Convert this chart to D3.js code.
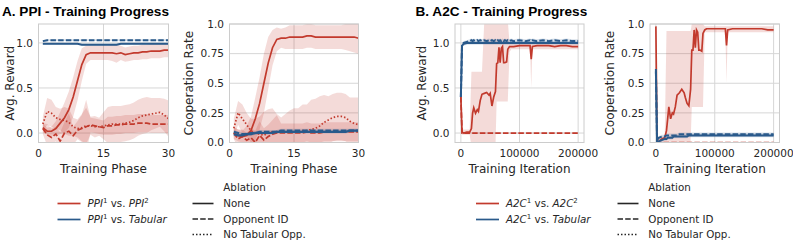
<!DOCTYPE html>
<html>
<head>
<meta charset="utf-8">
<script src="https://cdn.jsdelivr.net/npm/d3@7/dist/d3.min.js"></script>
<style>
  body { margin: 0; background: #fff; }
  svg text { fill: #262626; font-family: "DejaVu Sans", sans-serif; }
  .title { font-family: "Liberation Sans", Arial, sans-serif; font-weight: bold; font-size: 13.6px; fill: #000; }
  .tick { font-size: 10.5px; }
  .axlabel { font-size: 12px; }
  .legend { font-size: 10.3px; }
</style>
</head>
<body>
<div id="chart"></div>
<script>
// ---- data ----
var ppiPhases = [1,2,3,4,5,6,7,8,9,10,11,12,13,14,15,16,17,18,19,20,21,22,23,24,25,26,27,28,29,30];

// PPI, average reward
var ppiRewSelfNone   = [0.06,0.02,0.02,0.05,0.11,0.17,0.26,0.40,0.58,0.76,0.87,0.89,0.89,0.89,0.89,0.89,0.89,0.88,0.89,0.87,0.88,0.89,0.89,0.90,0.90,0.91,0.91,0.91,0.92,0.92];
var ppiRewSelfNoneSd = [0.05,0.04,0.05,0.08,0.12,0.17,0.20,0.22,0.22,0.18,0.10,0.08,0.08,0.08,0.08,0.08,0.09,0.10,0.08,0.08,0.08,0.08,0.08,0.08,0.08,0.08,0.08,0.08,0.08,0.08];
var ppiRewSelfOpp    = [0.05,-0.02,-0.05,-0.01,-0.09,0.00,0.02,-0.03,0.03,0.05,0.07,0.09,0.08,0.07,0.06,0.08,0.08,0.09,0.09,0.10,0.10,0.10,0.11,0.11,0.11,0.10,0.10,0.10,0.10,0.10];
var ppiRewSelfOppSd  = [0.06,0.12,0.10,0.08,0.10,0.12,0.20,0.10,0.10,0.15,0.30,0.08,0.08,0.08,0.08,0.10,0.10,0.10,0.10,0.10,0.10,0.10,0.10,0.10,0.10,0.10,0.10,0.10,0.10,0.10];
var ppiRewSelfNoTab   = [0.10,0.24,0.22,0.17,0.15,0.14,0.12,0.07,0.05,0.06,0.08,0.08,0.07,0.07,0.08,0.09,0.10,0.10,0.10,0.11,0.12,0.14,0.17,0.19,0.20,0.21,0.22,0.23,0.20,0.16];
var ppiRewSelfNoTabSd = [0.08,0.15,0.15,0.12,0.12,0.15,0.15,0.10,0.10,0.15,0.20,0.10,0.12,0.10,0.15,0.20,0.20,0.20,0.20,0.20,0.20,0.20,0.20,0.20,0.20,0.18,0.17,0.16,0.18,0.20];
var ppiRewTabNone = [0.99,0.99,0.99,0.99,0.99,0.99,0.99,0.99,0.99,0.98,0.98,0.98,0.98,0.98,0.98,0.98,0.98,0.98,0.99,0.99,0.99,0.99,0.99,0.99,0.99,0.99,0.99,0.99,0.99,0.99];
var ppiRewTabOpp  = [1.02,1.03,1.03,1.03,1.03,1.03,1.03,1.03,1.03,1.03,1.03,1.03,1.03,1.03,1.03,1.03,1.03,1.03,1.03,1.03,1.03,1.03,1.03,1.03,1.03,1.03,1.03,1.03,1.03,1.03];

// PPI, cooperation rate
var ppiCoopSelfNone   = [0.08,0.06,0.05,0.06,0.10,0.20,0.33,0.50,0.67,0.80,0.87,0.88,0.88,0.89,0.89,0.89,0.89,0.90,0.90,0.89,0.89,0.89,0.89,0.89,0.89,0.89,0.89,0.89,0.89,0.88];
var ppiCoopSelfNoneSd = [0.05,0.05,0.05,0.08,0.12,0.18,0.22,0.25,0.22,0.15,0.10,0.08,0.09,0.10,0.10,0.10,0.10,0.10,0.10,0.10,0.10,0.10,0.10,0.10,0.10,0.10,0.11,0.12,0.13,0.13];
var ppiCoopSelfOpp    = [0.08,0.03,0.05,0.02,0.04,0.00,0.06,0.02,0.05,0.07,0.08,0.08,0.08,0.08,0.08,0.08,0.08,0.09,0.08,0.08,0.08,0.09,0.09,0.09,0.09,0.09,0.09,0.09,0.09,0.09];
var ppiCoopSelfOppSd  = [0.05,0.08,0.06,0.06,0.08,0.10,0.12,0.10,0.10,0.12,0.15,0.08,0.08,0.08,0.08,0.08,0.08,0.08,0.08,0.08,0.08,0.08,0.08,0.08,0.08,0.08,0.08,0.08,0.08,0.08];
var ppiCoopSelfNoTab   = [0.12,0.25,0.20,0.15,0.10,0.08,0.07,0.06,0.08,0.09,0.09,0.09,0.09,0.09,0.09,0.09,0.10,0.10,0.11,0.12,0.14,0.17,0.19,0.21,0.22,0.22,0.21,0.18,0.16,0.15];
var ppiCoopSelfNoTabSd = [0.08,0.10,0.12,0.10,0.10,0.12,0.15,0.20,0.20,0.20,0.15,0.12,0.15,0.18,0.20,0.20,0.22,0.22,0.25,0.25,0.25,0.23,0.20,0.20,0.20,0.20,0.20,0.20,0.22,0.23];
var ppiCoopTabNone = [0.07,0.06,0.06,0.07,0.07,0.08,0.08,0.08,0.08,0.08,0.09,0.09,0.09,0.09,0.09,0.09,0.09,0.09,0.09,0.09,0.09,0.09,0.09,0.09,0.09,0.09,0.09,0.10,0.10,0.10];
var ppiCoopTabOpp  = [0.09,0.08,0.07,0.07,0.08,0.08,0.09,0.09,0.09,0.09,0.09,0.10,0.10,0.10,0.10,0.10,0.10,0.10,0.10,0.10,0.10,0.10,0.10,0.10,0.10,0.10,0.10,0.10,0.10,0.10];

// A2C, training iterations
var a2cIters = [0,2000,5000,10000,15000,18000,20000,22000,25000,28000,30000,33000,36000,40000,44000,48000,50000,53000,56000,59000,61000,63000,65000,67000,69000,71000,73000,75000,78000,80000,83000,86000,90000,100000,110000,118000,120000,122000,130000,140000,150000,160000,170000,180000,190000,200000];

// A2C, average reward
var a2cRewSelfNone   = [0.40,0.01,0.00,0.01,0.01,0.05,0.22,0.28,0.22,0.26,0.24,0.36,0.43,0.44,0.45,0.42,0.44,0.30,0.40,0.46,0.77,0.78,0.95,0.78,0.94,0.96,0.78,0.78,0.79,0.93,0.96,0.96,0.96,0.97,0.97,0.97,0.82,0.96,0.97,0.97,0.97,0.96,0.97,0.97,0.96,0.96];
var a2cRewSelfNoneLo = [0.35,-0.02,-0.02,-0.02,-0.02,-0.15,-0.15,-0.15,-0.15,-0.15,-0.15,-0.15,-0.15,-0.15,-0.15,-0.15,-0.15,-0.15,-0.15,-0.15,0.35,0.35,0.35,0.35,0.35,0.35,0.35,0.35,0.35,0.35,0.90,0.93,0.93,0.93,0.93,0.93,0.50,0.93,0.93,0.93,0.93,0.93,0.93,0.93,0.93,0.93];
var a2cRewSelfNoneHi = [0.45,0.04,0.04,0.04,0.04,0.68,0.68,0.68,0.68,0.68,0.68,0.68,0.68,1.25,1.25,1.25,1.25,1.25,1.25,1.25,1.25,1.25,1.25,1.25,1.25,1.25,1.25,1.25,1.25,1.25,1.00,0.99,0.99,0.99,0.99,0.99,0.99,0.99,0.99,0.99,0.99,0.99,0.99,0.99,0.99,0.99];
var a2cRewSelfOpp = [0.40,0.00,0.00,0.00,0.00,0.00,0.00,0.00,0.00,0.00,0.00,0.00,0.00,0.00,0.00,0.00,0.00,0.00,0.00,0.00,0.00,0.00,0.00,0.00,0.00,0.00,0.00,0.00,0.00,0.00,0.00,0.00,0.00,0.00,0.00,0.00,0.00,0.00,0.00,0.00,0.00,0.00,0.00,0.00,0.00,0.00];
var a2cRewTabNone = [0.40,0.97,0.99,1.00,1.00,1.00,1.00,1.00,1.00,1.00,1.00,1.00,1.00,1.00,1.00,1.00,1.00,1.00,1.00,1.00,1.00,1.00,1.00,1.00,1.00,1.00,1.00,1.00,1.00,1.00,1.00,1.00,1.00,1.00,1.00,1.00,1.00,1.00,1.00,1.00,1.00,1.00,1.00,1.00,1.00,1.00];
var a2cRewTabOpp  = [0.40,0.98,1.00,1.01,1.02,1.03,1.02,1.03,1.02,1.03,1.02,1.03,1.02,1.03,1.02,1.03,1.02,1.03,1.02,1.03,1.02,1.03,1.02,1.03,1.02,1.03,1.02,1.03,1.02,1.03,1.02,1.03,1.02,1.03,1.02,1.03,1.02,1.03,1.02,1.03,1.02,1.03,1.02,1.03,1.02,1.02];

// A2C, cooperation rate
var a2cCoopSelfNone   = [0.98,0.00,0.01,0.03,0.04,0.10,0.20,0.30,0.20,0.25,0.24,0.30,0.40,0.42,0.45,0.42,0.38,0.33,0.31,0.45,0.78,0.78,0.95,0.80,0.95,0.93,0.78,0.78,0.77,0.92,0.95,0.96,0.96,0.96,0.96,0.96,0.82,0.95,0.96,0.96,0.96,0.96,0.96,0.96,0.95,0.95];
var a2cCoopSelfNoneLo = [0.95,0.00,0.00,0.00,0.00,0.00,0.00,0.00,0.00,0.00,0.00,0.00,0.00,0.00,0.00,0.00,0.00,0.00,0.00,0.00,0.30,0.30,0.30,0.30,0.30,0.30,0.30,0.30,0.30,0.30,0.93,0.93,0.93,0.93,0.93,0.93,0.50,0.93,0.93,0.93,0.93,0.93,0.93,0.93,0.93,0.93];
var a2cCoopSelfNoneHi = [1.00,0.05,0.05,0.05,0.05,0.94,0.94,0.94,0.94,0.94,0.94,0.94,0.94,0.94,0.94,0.94,0.94,0.94,0.94,0.94,1.00,1.00,1.00,1.00,1.00,1.00,1.00,1.00,1.00,1.00,0.98,0.98,0.98,0.98,0.98,0.98,0.98,0.98,0.98,0.98,0.98,0.98,0.98,0.98,0.98,0.98];
var a2cCoopSelfOpp = [0.00,0.00,0.00,0.00,0.00,0.00,0.00,0.00,0.00,0.00,0.00,0.00,0.00,0.00,0.00,0.00,0.00,0.00,0.00,0.00,0.00,0.00,0.00,0.00,0.00,0.00,0.00,0.00,0.00,0.00,0.00,0.00,0.00,0.00,0.00,0.00,0.00,0.00,0.00,0.00,0.00,0.00,0.00,0.00,0.00,0.00];
var a2cCoopTabNone = [0.62,0.00,0.01,0.02,0.03,0.03,0.04,0.04,0.04,0.04,0.05,0.05,0.05,0.05,0.05,0.05,0.05,0.05,0.06,0.06,0.06,0.06,0.06,0.06,0.06,0.06,0.06,0.06,0.06,0.06,0.06,0.06,0.06,0.06,0.06,0.06,0.06,0.06,0.06,0.06,0.06,0.06,0.06,0.06,0.06,0.06];
var a2cCoopTabOpp  = [0.60,0.02,0.04,0.05,0.05,0.06,0.06,0.06,0.06,0.06,0.06,0.06,0.06,0.07,0.07,0.07,0.07,0.07,0.07,0.07,0.07,0.07,0.07,0.07,0.07,0.07,0.07,0.07,0.07,0.07,0.07,0.07,0.07,0.07,0.07,0.07,0.07,0.07,0.07,0.07,0.07,0.07,0.07,0.07,0.07,0.07];

// tick labels
var ppiXTicks = [0, 15, 30];
var a2cXTicks = [0, 100000, 200000];
var rewYTicks = [0, 0.5, 1];
var rewYLabels = ['0.0', '0.5', '1.0'];
var coopYTicks = [0, 0.25, 0.5, 0.75, 1];
var coopYLabels = ['0.0', '0.25', '0.5', '0.75', '1.0'];

// ---- drawing ----
var red = '#c23a2d', blue = '#2a5a8b';
var dashes = { none: null, opp: '5.5,2.2', notab: '1.5,2' };
var W = 793, H = 241;

var svg = d3.select('#chart').append('svg').attr('width', W).attr('height', H);

function symBand(m, sd) { return m.map(function(v, i){ return [v - sd[i], v + sd[i]]; }); }
function flatBand(m, w) { return m.map(function(v){ return [v - w, v + w]; }); }
function loHi(lo, hi) { return lo.map(function(v, i){ return [v, hi[i]]; }); }

function panel(o) {
  var x = d3.scaleLinear().domain(o.xDomain).range([o.left, o.right]);
  var y = d3.scaleLinear().domain(o.yDomain).range([o.bottom, o.top]);
  var g = svg.append('g');

  // grid
  g.selectAll('.gy').data(o.yTicks).enter().append('line')
    .attr('x1', o.left).attr('x2', o.right)
    .attr('y1', function(d){ return y(d); }).attr('y2', function(d){ return y(d); })
    .attr('stroke', '#d6d6d6').attr('stroke-width', 1);
  g.selectAll('.gx').data(o.xTicks).enter().append('line')
    .attr('y1', o.top).attr('y2', o.bottom)
    .attr('x1', function(d){ return x(d); }).attr('x2', function(d){ return x(d); })
    .attr('stroke', '#d6d6d6').attr('stroke-width', 1);

  var cid = 'clip' + o.id;
  svg.append('clipPath').attr('id', cid).append('rect')
    .attr('x', o.left).attr('y', o.top).attr('width', o.right - o.left).attr('height', o.bottom - o.top);
  var plot = g.append('g').attr('clip-path', 'url(#' + cid + ')');

  var area = d3.area()
    .x(function(d, i){ return x(o.xs[i]); })
    .y0(function(d){ return y(d[0]); })
    .y1(function(d){ return y(d[1]); });
  o.series.forEach(function(s){
    plot.append('path').attr('d', area(s.band))
      .attr('fill', s.color).attr('fill-opacity', 0.18).attr('stroke', 'none');
  });
  var line = d3.line()
    .x(function(d, i){ return x(o.xs[i]); })
    .y(function(d){ return y(d); });
  o.series.forEach(function(s){
    plot.append('path').attr('d', line(s.values))
      .attr('fill', 'none').attr('stroke', s.color).attr('stroke-width', s.width || 1.7)
      .attr('stroke-dasharray', dashes[s.dash]);
  });

  // frame
  g.append('rect').attr('x', o.left).attr('y', o.top)
    .attr('width', o.right - o.left).attr('height', o.bottom - o.top)
    .attr('fill', 'none').attr('stroke', '#cccccc').attr('stroke-width', 1);

  // tick labels
  g.selectAll('.xt').data(o.xTicks).enter().append('text').attr('class', 'tick')
    .attr('x', function(d){ return x(d); }).attr('y', 157.3)
    .attr('text-anchor', 'middle').text(function(d){ return d; });
  g.selectAll('.yt').data(o.yTicks).enter().append('text').attr('class', 'tick')
    .attr('x', o.left - 5.5).attr('y', function(d){ return y(d); }).attr('dy', '0.36em')
    .attr('text-anchor', 'end').text(function(d, i){ return o.yLabels[i]; });

  g.append('text').attr('class', 'axlabel')
    .attr('x', (o.left + o.right) / 2).attr('y', 172.5)
    .attr('text-anchor', 'middle').text(o.xlabel);
  g.append('text').attr('class', 'axlabel')
    .attr('transform', 'translate(' + o.ylabelX + ',' + ((o.top + o.bottom) / 2) + ') rotate(-90)')
    .attr('dy', '0.35em').attr('text-anchor', 'middle').text(o.ylabel);
}

var plotTop = 24, plotBottom = 142.5;
var rewDomain = [-0.105, 1.21];
var a2cDomain = [-10000, 210000];

panel({ id: 1, left: 38.5, right: 168.5, top: plotTop, bottom: plotBottom,
  xDomain: [0, 30], yDomain: rewDomain, xs: ppiPhases,
  xTicks: ppiXTicks, yTicks: rewYTicks, yLabels: rewYLabels,
  xlabel: 'Training Phase', ylabel: 'Avg. Reward', ylabelX: 10,
  series: [
    { values: ppiRewSelfNoTab, band: symBand(ppiRewSelfNoTab, ppiRewSelfNoTabSd), color: red, dash: 'notab' },
    { values: ppiRewSelfOpp, band: symBand(ppiRewSelfOpp, ppiRewSelfOppSd), color: red, dash: 'opp' },
    { values: ppiRewSelfNone, band: symBand(ppiRewSelfNone, ppiRewSelfNoneSd), color: red, dash: 'none' },
    { values: ppiRewTabNone, band: flatBand(ppiRewTabNone, 0.01), color: blue, dash: 'none', width: 2 },
    { values: ppiRewTabOpp, band: flatBand(ppiRewTabOpp, 0.01), color: blue, dash: 'opp', width: 2 }
  ] });

panel({ id: 2, left: 229.5, right: 358.5, top: plotTop, bottom: plotBottom,
  xDomain: [0, 30], yDomain: [0, 1], xs: ppiPhases,
  xTicks: ppiXTicks, yTicks: coopYTicks, yLabels: coopYLabels,
  xlabel: 'Training Phase', ylabel: 'Cooperation Rate', ylabelX: 189,
  series: [
    { values: ppiCoopSelfNoTab, band: symBand(ppiCoopSelfNoTab, ppiCoopSelfNoTabSd), color: red, dash: 'notab' },
    { values: ppiCoopSelfOpp, band: symBand(ppiCoopSelfOpp, ppiCoopSelfOppSd), color: red, dash: 'opp' },
    { values: ppiCoopSelfNone, band: symBand(ppiCoopSelfNone, ppiCoopSelfNoneSd), color: red, dash: 'none' },
    { values: ppiCoopTabNone, band: flatBand(ppiCoopTabNone, 0.015), color: blue, dash: 'none', width: 2.2 },
    { values: ppiCoopTabOpp, band: flatBand(ppiCoopTabOpp, 0.015), color: blue, dash: 'opp', width: 2.2 }
  ] });

panel({ id: 3, left: 455, right: 584, top: plotTop, bottom: plotBottom,
  xDomain: a2cDomain, yDomain: rewDomain, xs: a2cIters,
  xTicks: a2cXTicks, yTicks: rewYTicks, yLabels: rewYLabels,
  xlabel: 'Training Iteration', ylabel: 'Avg. Reward', ylabelX: 421.5,
  series: [
    { values: a2cRewSelfOpp, band: flatBand(a2cRewSelfOpp, 0.005), color: red, dash: 'opp' },
    { values: a2cRewSelfNone, band: loHi(a2cRewSelfNoneLo, a2cRewSelfNoneHi), color: red, dash: 'none' },
    { values: a2cRewTabNone, band: flatBand(a2cRewTabNone, 0.02), color: blue, dash: 'none', width: 2 },
    { values: a2cRewTabOpp, band: flatBand(a2cRewTabOpp, 0.02), color: blue, dash: 'opp', width: 2 }
  ] });

panel({ id: 4, left: 650, right: 779.5, top: plotTop, bottom: plotBottom,
  xDomain: a2cDomain, yDomain: [0, 1], xs: a2cIters,
  xTicks: a2cXTicks, yTicks: coopYTicks, yLabels: coopYLabels,
  xlabel: 'Training Iteration', ylabel: 'Cooperation Rate', ylabelX: 610,
  series: [
    { values: a2cCoopSelfOpp, band: flatBand(a2cCoopSelfOpp, 0.005), color: red, dash: 'opp' },
    { values: a2cCoopSelfNone, band: loHi(a2cCoopSelfNoneLo, a2cCoopSelfNoneHi), color: red, dash: 'none' },
    { values: a2cCoopTabNone, band: flatBand(a2cCoopTabNone, 0.015), color: blue, dash: 'none', width: 2 },
    { values: a2cCoopTabOpp, band: flatBand(a2cCoopTabOpp, 0.015), color: blue, dash: 'opp', width: 2 }
  ] });

// titles
svg.append('text').attr('class', 'title').attr('x', 2).attr('y', 15.5).text('A. PPI - Training Progress');
svg.append('text').attr('class', 'title').attr('x', 415.5).attr('y', 15.5).text('B. A2C - Training Progress');

// legends
function agentLegend(x0, textX, name, rows) {
  var g = svg.append('g').attr('class', 'legend');
  rows.forEach(function(r, i){
    var yy = 203.5 + i * 16;
    g.append('line').attr('x1', x0).attr('x2', x0 + 23).attr('y1', yy).attr('y2', yy)
      .attr('stroke', r.color).attr('stroke-width', 1.7);
    var t = g.append('text').attr('x', textX).attr('y', yy).attr('dy', '0.36em');
    t.append('tspan').attr('font-style', 'italic').text(name);
    t.append('tspan').attr('font-size', '7px').attr('dy', '-4').text('1');
    t.append('tspan').attr('dy', '4').text(' vs. ');
    if (r.sup) {
      t.append('tspan').attr('font-style', 'italic').text(name);
      t.append('tspan').attr('font-size', '7px').attr('dy', '-4').text(r.sup);
    } else {
      t.append('tspan').attr('font-style', 'italic').text(r.opp);
    }
  });
}
function ablationLegend(x0, textX) {
  var g = svg.append('g').attr('class', 'legend');
  g.append('text').attr('x', textX).attr('y', 187.5).attr('dy', '0.36em').text('Ablation');
  [['none', 'None'], ['opp', 'Opponent ID'], ['notab', 'No Tabular Opp.']].forEach(function(r, i){
    var yy = 203.5 + i * 15.5;
    g.append('line').attr('x1', x0).attr('x2', x0 + 21).attr('y1', yy).attr('y2', yy)
      .attr('stroke', '#262626').attr('stroke-width', 1.6).attr('stroke-dasharray', dashes[r[0]]);
    g.append('text').attr('x', textX).attr('y', yy).attr('dy', '0.36em').text(r[1]);
  });
}
agentLegend(57.5, 87.5, 'PPI', [{ color: red, sup: '2' }, { color: blue, opp: 'Tabular' }]);
ablationLegend(192.5, 223.3);
agentLegend(476, 506, 'A2C', [{ color: red, sup: '2' }, { color: blue, opp: 'Tabular' }]);
ablationLegend(617.5, 648.3);
</script>
</body>
</html>
